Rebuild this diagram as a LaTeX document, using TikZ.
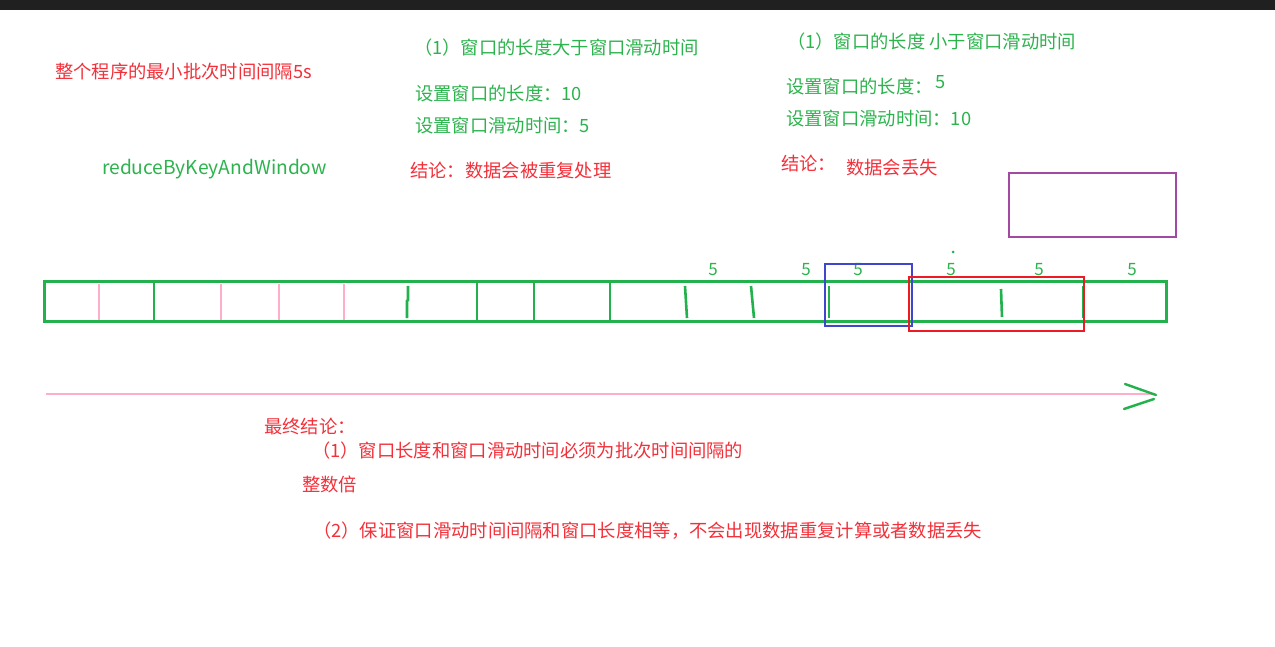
\documentclass[tikz,border=0pt]{standalone}
\usepackage{fontspec}
\setmainfont{Noto Sans CJK SC}
\definecolor{pgreen}{HTML}{22B14C}
\definecolor{tgreen}{HTML}{2DB34E}
\definecolor{pred}{HTML}{ED1C24}
\definecolor{tred}{HTML}{F2303A}
\definecolor{ppink}{HTML}{FFAEC9}
\definecolor{pblue}{HTML}{3F48CC}
\definecolor{ppurple}{HTML}{A349A4}
\definecolor{topbar}{HTML}{202020}
\begin{document}
\begin{tikzpicture}[x=1pt,y=-1pt,
  txt/.style={anchor=west,inner sep=0pt,font=\fontsize{18.3}{21}\selectfont},
  gtxt/.style={txt,text=tgreen},
  rtxt/.style={txt,text=tred},
  bar/.style={draw=pgreen,line width=3pt},
  gdiv/.style={draw=pgreen,line width=2.6pt},
  pdiv/.style={draw=ppink,line width=2.2pt},
  five/.style={inner sep=0pt,text=tgreen,font=\fontsize{17}{19}\selectfont}]
\useasboundingbox (0,0) rectangle (1275,647);
\fill[topbar] (0,0) rectangle (1275,10);

% texts
\node[rtxt] (t1) at (55,72) {整个程序的最小批次时间间隔5s};
\node[gtxt,font=\fontsize{19.2}{22}\selectfont] (t2) at (102,169) {reduceByKeyAndWindow};
\node[gtxt] (a1) at (414,48) {（1）窗口的长度大于窗口滑动时间};
\node[gtxt] (a2) at (415,94) {设置窗口的长度：10};
\node[gtxt] (a3) at (415,126) {设置窗口滑动时间：5};
\node[rtxt] (a4) at (410,171) {结论：数据会被重复处理};
\node[gtxt] (b1) at (787,42) {（1）窗口的长度 小于窗口滑动时间};
\node[gtxt] (b2) at (786,87) {设置窗口的长度：};
\node[gtxt] (b2n) at (935,82) {5};
\node[gtxt] (b3) at (786,119) {设置窗口滑动时间：10};
\node[rtxt] (b4) at (781,164) {结论：};
\node[rtxt] (b5) at (846,168) {数据会丢失};
\node[rtxt] (c1) at (264,427) {最终结论：};
\node[rtxt] (c2) at (312,451) {（1）窗口长度和窗口滑动时间必须为批次时间间隔的};
\node[rtxt] (c3) at (302,484) {整数倍};
\node[rtxt] (c4) at (313,531) {（2）保证窗口滑动时间间隔和窗口长度相等，不会出现数据重复计算或者数据丢失};

% timeline bar
\draw[bar] (44,282) rectangle (1166,321);
\foreach \x in {99,221,279,344} \draw[pdiv] (\x,284) -- (\x,320);
\foreach \x in {154,477,534,610} \draw[gdiv] (\x,283) -- (\x,320);
\draw[gdiv] (408,286) -- (408,300) -- (407,301) -- (407,318);
\draw[gdiv] (685,286) -- (687,318);
\draw[gdiv] (751,286) -- (754,318);
\draw[gdiv] (829,286) -- (829,318);
\draw[gdiv] (1001,289) -- (1002,317);
\draw[gdiv] (1083,286) -- (1083,318);

% 5 labels
\foreach \x/\n in {713/f1,806/f2,858/f3,951/f4,1039/f5,1132/f6} \node[five] (\n) at (\x,270) {5};
\fill[pgreen] (953,252) circle (1.5);

% windows
\draw[draw=pblue,line width=2.8pt] (825,264) rectangle (912,326);
\draw[draw=pred,line width=2.8pt] (909,277) rectangle (1084,331);
\draw[draw=ppurple,line width=2.8pt] (1009,173) rectangle (1176,237);

% time axis
\coordinate (ax0) at (46,394);
\coordinate (ax1) at (1155,394);
\draw[ppink,line width=2.4pt] (ax0) -- (ax1);
\draw[pgreen,line width=2.4pt,line cap=round] (1125,384) -- (1156,395);
\draw[pgreen,line width=2.4pt,line cap=round] (1124,409) -- (1154,399);
\end{tikzpicture}
\end{document}
